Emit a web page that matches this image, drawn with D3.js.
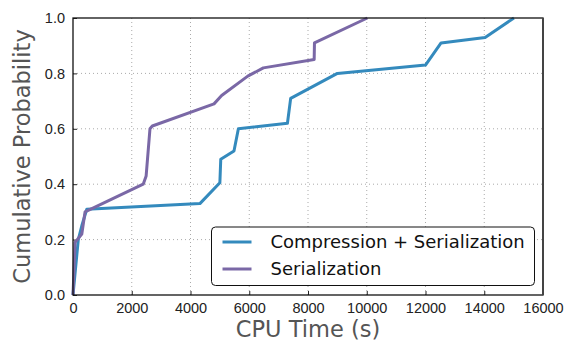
<!DOCTYPE html>
<html>
<head>
<meta charset="utf-8">
<script src="https://cdn.jsdelivr.net/npm/d3@7"></script>
<style>
  body { margin: 0; background: #fff; }
  svg { font-family: "DejaVu Sans", sans-serif; }
</style>
</head>
<body>
<svg width="571" height="344"></svg>
<script>
// CDF data
const compTime = [0, 180, 300, 470, 4320, 5000, 5030, 5480, 5630, 7300, 7410, 9000, 12000, 12530, 14030, 15010];
const compProb = [0, 0.20, 0.25, 0.31, 0.33, 0.405, 0.49, 0.52, 0.60, 0.62, 0.71, 0.80, 0.83, 0.91, 0.93, 1.0];
const serTime = [0, 70, 300, 410, 2390, 2490, 2620, 2700, 4800, 5060, 5950, 6480, 8210, 8220, 10020];
const serProb = [0, 0.19, 0.22, 0.30, 0.40, 0.43, 0.60, 0.61, 0.69, 0.72, 0.79, 0.82, 0.85, 0.91, 1.0];
const xTicks = [0, 2000, 4000, 6000, 8000, 10000, 12000, 14000, 16000];
const yTicks = [0.0, 0.2, 0.4, 0.6, 0.8, 1.0];
const seriesNames = ["Compression + Serialization", "Serialization"];
const colors = ["#348ABD", "#7A68A6"];

const svg = d3.select('svg');
const margin = {top: 18, left: 73, right: 28, bottom: 49};
const WIDTH = +svg.attr('width');
const HEIGHT = +svg.attr('height');
const width = WIDTH - margin.left - margin.right;
const height = HEIGHT - margin.top - margin.bottom;

const xScale = d3.scaleLinear().domain([0, 16000]).range([0, width]);
const yScale = d3.scaleLinear().domain([0, 1]).range([height, 0]);

const g = svg.append('g').attr('transform', `translate(${margin.left},${margin.top})`);

// grid
g.append('g').selectAll('line').data(xTicks.slice(1, -1)).enter().append('line')
  .attr('x1', d => xScale(d)).attr('x2', d => xScale(d))
  .attr('y1', 0).attr('y2', height)
  .style('stroke', '#aaa').style('stroke-dasharray', '1,3');
g.append('g').selectAll('line').data(yTicks.slice(1, -1)).enter().append('line')
  .attr('y1', d => yScale(d)).attr('y2', d => yScale(d))
  .attr('x1', 0).attr('x2', width)
  .style('stroke', '#aaa').style('stroke-dasharray', '1,3');

// axes
const xAxis = d3.axisBottom(xScale).tickValues(xTicks).tickFormat(d3.format('d')).tickSizeInner(-4).tickSizeOuter(0).tickPadding(8);
const yAxis = d3.axisLeft(yScale).tickValues(yTicks).tickFormat(d3.format('.1f')).tickSizeInner(-4).tickSizeOuter(0).tickPadding(8);
const xa = g.append('g').attr('transform', `translate(0,${height})`).call(xAxis);
const ya = g.append('g').call(yAxis);
[xa, ya].forEach(a => {
  a.select('.domain').remove();
  a.selectAll('text').style('font-size', '14.5px').style('fill', '#222');
  a.selectAll('line').style('stroke', '#222');
});

// lines
const line = d3.line().x(d => xScale(d[0])).y(d => yScale(d[1]));
const series = [
  d3.zip(compTime, compProb),
  d3.zip(serTime, serProb)
];
series.forEach((s, i) => {
  g.append('path').datum(s).attr('d', line)
    .style('fill', 'none').style('stroke', colors[i])
    .style('stroke-width', 3).style('stroke-linejoin', 'round');
});

// frame
g.append('rect').attr('width', width).attr('height', height)
  .style('fill', 'none').style('stroke', '#111').style('stroke-width', 1.3);
g.append('line').attr('x1', width).attr('x2', width).attr('y1', 0).attr('y2', height)
  .style('stroke', '#444').style('stroke-width', 2);

// legend
const legend = g.append('g').attr('transform', `translate(${211.5 - margin.left},${227 - margin.top})`);
legend.append('rect').attr('width', 323).attr('height', 58.5).attr('rx', 4)
  .style('fill', '#fff').style('stroke', '#111').style('stroke-width', 1);
seriesNames.forEach((name, i) => {
  const yy = 15 + i * 27;
  legend.append('line').attr('x1', 11).attr('x2', 40).attr('y1', yy).attr('y2', yy)
    .style('stroke', colors[i]).style('stroke-width', 3);
  legend.append('text').attr('x', 59).attr('y', yy).attr('dy', '0.35em')
    .style('font-size', '18px').style('fill', '#111').text(name);
});

// axis labels
svg.append('text').attr('x', margin.left + width / 2).attr('y', 337)
  .style('text-anchor', 'middle').style('font-size', '22.5px').style('fill', '#555')
  .text('CPU Time (s)');
svg.append('text').attr('transform', `translate(30,${margin.top + height / 2}) rotate(-90)`)
  .style('text-anchor', 'middle').style('font-size', '22.5px').style('fill', '#555')
  .text('Cumulative Probability');
</script>
</body>
</html>
